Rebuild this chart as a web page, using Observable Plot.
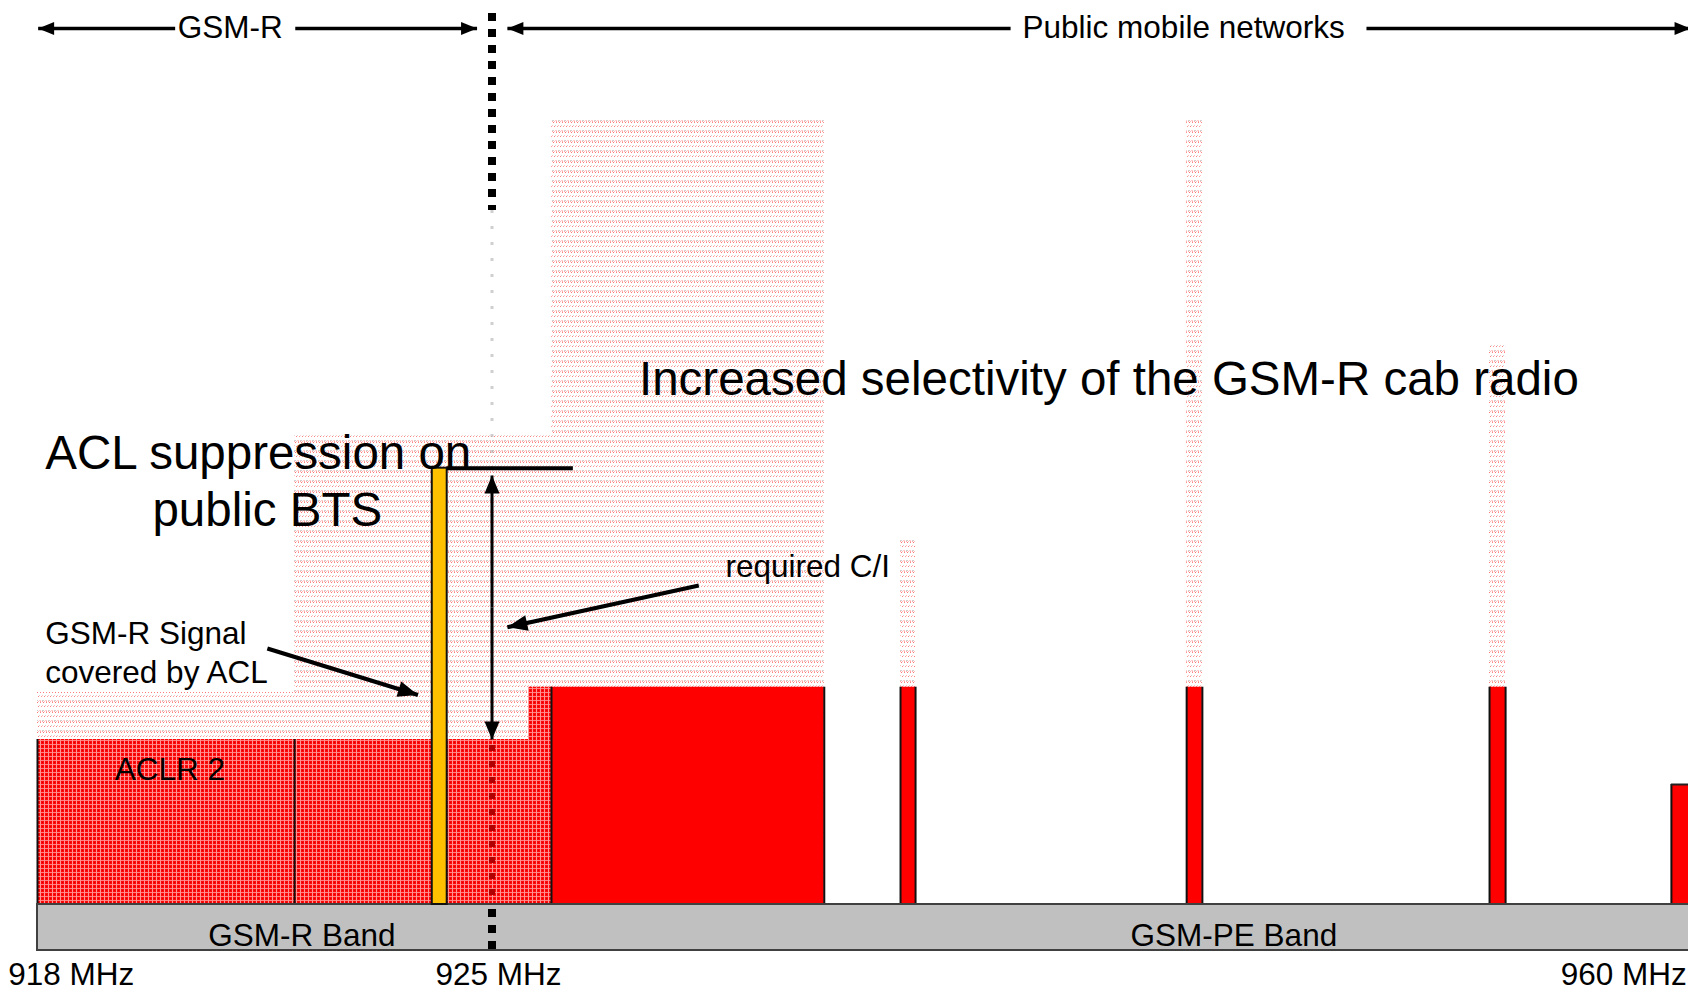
<!DOCTYPE html>
<html>
<head>
<meta charset="utf-8">
<script src="https://cdn.jsdelivr.net/npm/d3@7"></script>
<script src="https://cdn.jsdelivr.net/npm/@observablehq/plot@0.6"></script>
<style>
  html, body { margin: 0; padding: 0; background: #fff; overflow: hidden; }
  #chart svg { display: block; }
</style>
</head>
<body>
<svg width="0" height="0" style="position:absolute">
  <defs>
    <pattern id="aclr" width="4" height="4" patternUnits="userSpaceOnUse">
      <rect width="4" height="4" fill="#ff0a0a"/>
      <rect width="4" height="1" fill="#ff8080"/>
      <rect width="1" height="4" fill="#ff9494"/>
      <rect x="2" y="2" width="1" height="1" fill="#e00000"/>
    </pattern>
    <pattern id="pale" width="6" height="10" patternUnits="userSpaceOnUse">
      <rect width="6" height="10" fill="#ffffff"/>
      <rect x="0" y="0" width="2" height="1" fill="#d0d0d0"/>
      <rect x="3" y="0" width="2" height="1" fill="#ffcccc"/>
      <rect x="0" y="1" width="1" height="1" fill="#ffa8a8"/>
      <rect x="2" y="1" width="1" height="1" fill="#ffbcbc"/>
      <rect x="4" y="1" width="1" height="1" fill="#ffa8a8"/>
      <rect x="1" y="2" width="1" height="1" fill="#ff7474"/>
      <rect x="4" y="2" width="1" height="1" fill="#ff8484"/>
      <rect x="0" y="5" width="1" height="1" fill="#ffc0c0"/>
      <rect x="3" y="5" width="1" height="1" fill="#d4d4d4"/>
      <rect x="2" y="6" width="1" height="1" fill="#ff8080"/>
      <rect x="5" y="6" width="1" height="1" fill="#ff9c9c"/>
    </pattern>
  </defs>
</svg>
<div id="chart"></div>
<script>
// ---------------- data (frequency in MHz, schematic level in dB-like units) ----------------
const freqBreaks = [918, 925, 960];
const levelDomain = [-11.25, 113];

// original (pre-suppression / pre-selectivity) spectrum outline — pale hatched
const paleX1  = [918, 921.96, 926.74, 936.95, 945.32, 954.18];
const paleX2  = [921.96, 926.74, 934.72, 937.39, 945.78, 954.65];
const paleTop = [26.5, 58.6, 98.25, 45.75, 98.25, 70];

// ACL / ACLR 2 remaining after suppression — dark hatched
const aclrX1  = [918, 921.96, 926.07];
const aclrX2  = [921.96, 926.07, 926.74];
const aclrTop = [20.625, 20.625, 27.16];

// public carriers (solid red)
const carrierX1  = [926.74, 936.95, 945.32, 954.18, 959.50];
const carrierX2  = [934.72, 937.39, 945.78, 954.65, 960.3];
const carrierTop = [27.16, 27.16, 27.16, 27.16, 15];

// GSM-R wanted signal (yellow)
const gsmrX1 = [924.08];
const gsmrX2 = [924.31];
const gsmrTop = [54.54];

// reference level line at the GSM-R signal top
const refLineX = [924.31, 927.38];
const refLineY = 54.54;

// band strip
const bandX1 = [918];
const bandX2 = [960.3];
const bandTop = [0];
const bandBottom = [-5.75];

// 925 MHz boundary: dotted segments
const boundaryFreq = 925;
const boundaryBlackY1 = [111.375, -0.625];
const boundaryBlackY2 = [86.75, -5.625];
const boundaryFaintY = [86.75, 20.625];
const boundaryRedY = [19.875, 0];

// arrows: tail (x1,y1) -> tip (x2,y2)
const arrowX1 = [920.12, 921.97, 940.17, 950.58, 925, 925, 931.05, 921.54];
const arrowY1 = [109.5, 109.5, 109.5, 109.5, 37.1, 37.1, 39.875, 32.0];
const arrowX2 = [918.01, 924.77, 925.45, 960.06, 925, 925, 925.45, 923.86];
const arrowY2 = [109.5, 109.5, 109.5, 109.5, 53.625, 20.625, 34.66, 26.19];
const arrowGroup = ["top", "top", "top", "top", "ci", "ci", "pointer", "pointer"];

// small labels
const smallText = ["GSM-R", "Public mobile networks", "required C/I", "GSM-R Signal", "covered by ACL",
                   "ACLR 2", "GSM-R Band", "GSM-PE Band", "918 MHz", "925 MHz", "960 MHz"];
const smallX = [920.16, 940.52, 931.83, 918.12, 918.12, 919.19, 920.63, 943.68, 917.55, 924.13, 956.26];
const smallY = [108.3, 108.3, 40.9, 32.6, 27.66, 15.6, -5.125, -5.125, -10.0, -10.0, -10.0];

// large labels
const bigText = ["Increased selectivity of the GSM-R cab radio", "ACL suppression on", "public BTS"];
const bigX = [929.30, 918.12, 919.77];
const bigY = [63.75, 54.5, 47.375];

// ---------------- build ----------------
const W = 1688, H = 994;
// schematic (piecewise-linear) frequency axis: GSM-R part is stretched
const F = d3.scaleLinear(freqBreaks, [37, 491.5, 1688]);
const Y = d3.scaleLinear(levelDomain, [H, 0]);
const fx = key => d => F(d[key]);

const rects = (x1s, x2s, tops, bottom = 0) => x1s.map((x1, i) => ({x1, x2: x2s[i], top: tops[i], bottom}));
const pale = rects(paleX1, paleX2, paleTop);
const aclr = rects(aclrX1, aclrX2, aclrTop);
const carriers = rects(carrierX1, carrierX2, carrierTop);
const gsmr = rects(gsmrX1, gsmrX2, gsmrTop);
const band = bandX1.map((x1, i) => ({x1, x2: bandX2[i], top: bandTop[i], bottom: bandBottom[i]}));

const carrierEdges = carriers.flatMap(c => [{x: c.x1, top: c.top}, {x: c.x2, top: c.top}]);
const aclrEdges = [{x: aclrX1[0], top: aclrTop[0]}, {x: aclrX2[0], top: aclrTop[0]}];

const headDims = {top: [16, 6.5], ci: [18, 7.5], pointer: [20, 8]};
const lineWidth = {top: 3.5, ci: 3, pointer: 4};
const arrows = arrowX1.map((x1, i) => ({
  x1, y1: arrowY1[i], x2: arrowX2[i], y2: arrowY2[i], g: arrowGroup[i]
}));

function headSymbol(a) {
  const dx = F(a.x2) - F(a.x1), dy = Y(a.y2) - Y(a.y1);
  const t = Math.atan2(dx, -dy);
  const [L, Hw] = headDims[a.g];
  const rot = ([x, y]) => [x * Math.cos(t) - y * Math.sin(t), x * Math.sin(t) + y * Math.cos(t)];
  const p1 = rot([-Hw, L]), p2 = rot([Hw, L]);
  return {draw(ctx) { ctx.moveTo(0, 0); ctx.lineTo(p1[0], p1[1]); ctx.lineTo(p2[0], p2[1]); ctx.closePath(); }};
}

const small = smallText.map((t, i) => ({t, x: smallX[i], y: smallY[i]}));
const big = bigText.map((t, i) => ({t, x: bigX[i], y: bigY[i]}));
const boundary = [{x: boundaryFreq}];

const rectOpts = {x1: fx("x1"), x2: fx("x2"), y1: "bottom", y2: "top"};

const marks = [
  // pale original spectrum
  Plot.rect(pale, {...rectOpts, fill: "url(#pale)"}),
  // faint part of the boundary line
  Plot.ruleX(boundary, {x: fx("x"), y1: () => boundaryFaintY[0], y2: () => boundaryFaintY[1],
    stroke: "#b0b0b0", strokeWidth: 3, strokeDasharray: "3 13", strokeOpacity: 0.6}),
  // ACLR
  Plot.rect(aclr, {...rectOpts, fill: "url(#aclr)"}),
  Plot.ruleX(boundary, {x: fx("x"), y1: () => boundaryRedY[0], y2: () => boundaryRedY[1],
    stroke: "#b00000", strokeWidth: 6, strokeDasharray: "6 10"}),
  Plot.ruleX(aclrEdges, {x: fx("x"), y1: () => 0, y2: "top", stroke: "#111", strokeWidth: 2}),
  // carriers
  Plot.rect(carriers, {...rectOpts, fill: "#ff0000"}),
  Plot.ruleX(carrierEdges, {x: fx("x"), y1: () => 0, y2: "top", stroke: "#111", strokeWidth: 2}),
  Plot.ruleY(carriers.slice(-1), {x1: fx("x1"), x2: fx("x2"), y: "top", stroke: "#222", strokeWidth: 2}),
  // band strip
  Plot.rect(band, {...rectOpts, fill: "#c0c0c0", stroke: "#404040", strokeWidth: 2}),
  // GSM-R signal
  Plot.rect(gsmr, {...rectOpts, fill: "#ffc000", stroke: "#111", strokeWidth: 2}),
  // boundary dotted line (black parts)
  Plot.ruleX(boundaryBlackY1.map((y1, i) => ({x: boundaryFreq, y1, y2: boundaryBlackY2[i]})), {
    x: fx("x"), y1: "y1", y2: "y2", stroke: "#000", strokeWidth: 8, strokeDasharray: "8 8"}),
  // reference line at GSM-R signal top
  Plot.ruleY([{y: refLineY, x1: refLineX[0], x2: refLineX[1]}], {x1: fx("x1"), x2: fx("x2"), y: "y",
    stroke: "#000", strokeWidth: 4}),
  // arrows
  Plot.link(arrows, {x1: fx("x1"), y1: "y1", x2: fx("x2"), y2: "y2", stroke: "#000",
    strokeWidth: d => lineWidth[d.g]}),
  ...arrows.map(a => Plot.dot([a], {x: fx("x2"), y: "y2", symbol: headSymbol(a), fill: "#000", stroke: "none"})),
  // labels
  Plot.text(small, {x: fx("x"), y: "y", text: "t", textAnchor: "start", lineAnchor: "bottom",
    fontSize: 31.5, fill: "#000"}),
  Plot.text(big, {x: fx("x"), y: "y", text: "t", textAnchor: "start", lineAnchor: "bottom",
    fontSize: 47.5, fill: "#000"})
];

const chart = Plot.plot({
  width: W,
  height: H,
  margin: 0,
  x: {type: "identity"},
  y: {domain: levelDomain, range: [H, 0], axis: null},
  style: {fontFamily: "'Liberation Sans', Arial, Helvetica, sans-serif", background: "white", overflow: "hidden"},
  marks
});
document.getElementById("chart").appendChild(chart);
</script>
</body>
</html>
